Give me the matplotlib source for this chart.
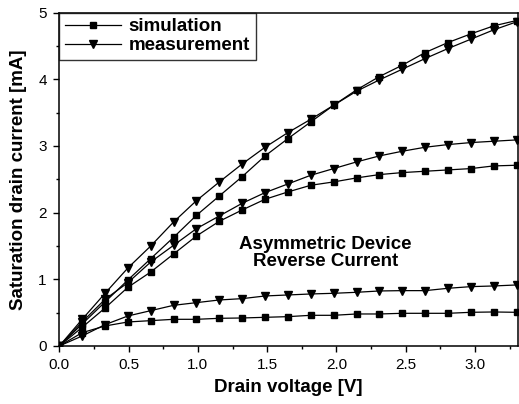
import matplotlib
matplotlib.use("Agg")
import matplotlib.pyplot as plt
import numpy as np
from matplotlib.ticker import MultipleLocator

plt.rcParams['font.family'] = ['Liberation Sans', 'DejaVu Sans']

# Drain voltage steps [V]
voltage = [0.0, 0.165, 0.33, 0.495, 0.66, 0.825, 0.99, 1.155, 1.32, 1.485, 1.65,
           1.815, 1.98, 2.145, 2.31, 2.475, 2.64, 2.805, 2.97, 3.135, 3.3]

# Saturation drain current [mA]
sim_high = [0.0, 0.33, 0.66, 0.99, 1.31, 1.63, 1.96, 2.25, 2.54, 2.85, 3.11,
            3.36, 3.61, 3.84, 4.04, 4.21, 4.40, 4.55, 4.68, 4.80, 4.88]
meas_high = [0.0, 0.40, 0.79, 1.17, 1.50, 1.86, 2.18, 2.46, 2.73, 2.98, 3.20,
             3.40, 3.61, 3.82, 3.99, 4.15, 4.31, 4.46, 4.60, 4.74, 4.86]
sim_mid = [0.0, 0.28, 0.57, 0.88, 1.11, 1.38, 1.65, 1.87, 2.04, 2.20, 2.31,
           2.41, 2.46, 2.52, 2.57, 2.60, 2.62, 2.64, 2.66, 2.70, 2.71]
meas_mid = [0.0, 0.36, 0.70, 0.95, 1.26, 1.51, 1.76, 1.95, 2.14, 2.30, 2.43,
            2.56, 2.66, 2.76, 2.85, 2.92, 2.98, 3.02, 3.05, 3.07, 3.09]
sim_low = [0.0, 0.20, 0.30, 0.36, 0.38, 0.40, 0.40, 0.415, 0.42, 0.43, 0.44,
           0.46, 0.46, 0.48, 0.48, 0.49, 0.49, 0.49, 0.505, 0.51, 0.505]
meas_low = [0.0, 0.15, 0.32, 0.45, 0.53, 0.61, 0.65, 0.69, 0.71, 0.75, 0.765,
            0.78, 0.79, 0.805, 0.825, 0.83, 0.83, 0.865, 0.89, 0.90, 0.915]

fig = plt.figure(figsize=(5.19, 4.04), dpi=100)
ax = fig.add_axes([0.1143, 0.1436, 0.8837, 0.8254])

sq = dict(color='black', marker='s', markersize=4.3, linewidth=0.9)
tri = dict(color='black', marker='v', markersize=5.5, linewidth=0.9)

ax.plot(voltage, sim_high, label='simulation', **sq)
ax.plot(voltage, meas_high, label='measurement', **tri)
ax.plot(voltage, sim_mid, **sq)
ax.plot(voltage, meas_mid, **tri)
ax.plot(voltage, sim_low, **sq)
ax.plot(voltage, meas_low, **tri)

ax.set_xlim(0, 3.31)
ax.set_ylim(0, 5)
ax.xaxis.set_minor_locator(MultipleLocator(0.25))
ax.yaxis.set_major_locator(MultipleLocator(1))
ax.yaxis.set_minor_locator(MultipleLocator(0.5))
xt = np.arange(0, 3.01, 0.5)
ax.set_xticks(xt)
ax.set_xticklabels([f"{v:.1f}" for v in xt])
ax.tick_params(which='major', direction='out', length=4, width=1, labelsize=11, pad=5)
ax.tick_params(which='minor', direction='out', length=2.5, width=1)
for s in ax.spines.values():
    s.set_linewidth(1.1)

ax.set_xlabel('Drain voltage [V]', fontsize=13.5, fontweight='bold', labelpad=5)
ax.set_ylabel('Saturation drain current [mA]', fontsize=13.5, fontweight='bold', labelpad=8)

ax.text(1.92, 1.40, 'Asymmetric Device\nReverse Current', ha='center', va='center',
        fontsize=13.5, fontweight='bold', linespacing=1.0)

leg = ax.legend(loc='upper left', frameon=True, fancybox=False, edgecolor='black',
                borderaxespad=0, handlelength=3.0, handletextpad=0.4,
                labelspacing=0.1, borderpad=0.3,
                prop={'weight': 'bold', 'size': 13.5})
leg.get_frame().set_linewidth(1.0)

fig.savefig('out.png', dpi=100)
